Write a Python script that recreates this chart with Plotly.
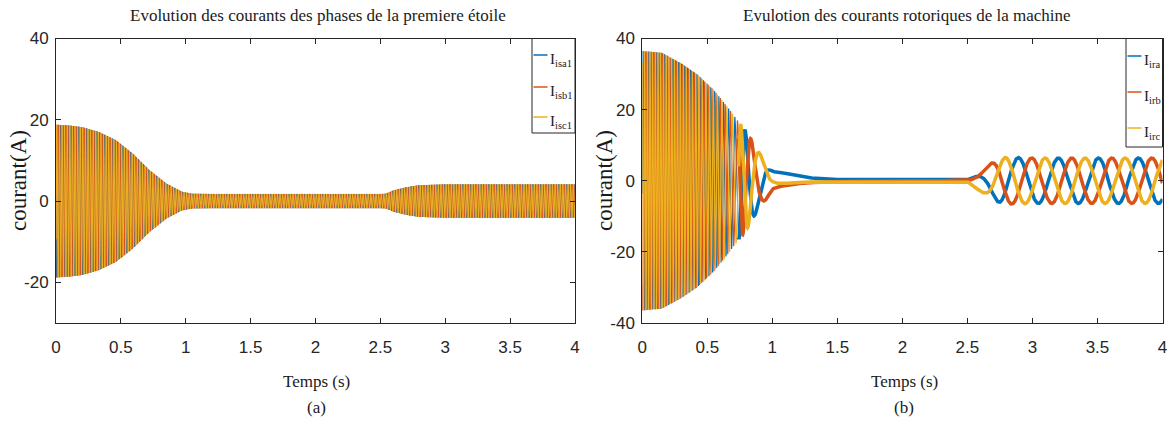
import numpy as np
import plotly.graph_objects as go

W, H = 1176, 421

# ---------------- data ----------------
T_END = 4.0
DT = 0.0004

# (a) stator currents of the first star: 50 Hz carrier, envelope
stator_env_t = [0.0, 0.1, 0.2, 0.33, 0.46, 0.59, 0.72, 0.85, 0.97, 1.05, 1.2, 2.5, 2.54, 2.6, 2.7, 2.8, 2.9, 3.0, 4.0]
stator_env_a = [18.8, 18.6, 18.2, 17.0, 15.0, 11.7, 7.6, 4.3, 2.3, 1.8, 1.75, 1.75, 1.8, 2.6, 3.4, 3.9, 4.0, 4.1, 4.1]
stator_freq_hz = 50.0

# (b) rotor currents: envelope and slip frequency
rotor_env_t = [0.0, 0.15, 0.3, 0.42, 0.55, 0.65, 0.73, 0.79, 0.84, 0.86, 0.91, 0.956, 1.0, 1.06, 1.15, 1.24, 1.44, 1.6, 2.5,
               2.55, 2.6, 2.65, 2.7, 2.75, 2.8, 2.9, 3.0, 4.0]
rotor_env_a = [36.5, 36.0, 33.0, 30.0, 25.5, 21.0, 17.0, 14.3, 11.5, 10.0, 7.3, 5.0, 2.8, 2.4, 1.7, 1.0, 0.4, 0.3, 0.3,
               1.6, 3.0, 4.2, 5.3, 6.2, 6.6, 6.5, 6.4, 6.4]
rotor_freq_t = [0.0, 0.2, 0.4, 0.5, 0.6, 0.7, 0.75, 0.8, 0.85, 0.9, 0.95, 1.0, 1.05, 1.1, 2.5,
                2.55, 2.6, 2.65, 2.7, 2.75, 2.8, 2.9, 4.0]
rotor_freq_hz = [50.0, 47.0, 41.0, 36.0, 29.0, 20.0, 12.0, 8.0, 5.5, 3.8, 3.0, 1.2, 0.3, 0.0, 0.3,
                 0.6, 1.2, 2.0, 2.8, 3.2, 3.3, 3.25, 3.25]
rotor_anchor_t = [0.79, 2.892]   # instants where I_ira reaches a crest
rotor_step_t = 2.5               # load step instant
rotor_dense_end_t = 0.74         # end of the dense start-up part (drawn thinner)

x_tick_vals = [0, 0.5, 1, 1.5, 2, 2.5, 3, 3.5, 4]
x_tick_text = ["0", "0.5", "1", "1.5", "2", "2.5", "3", "3.5", "4"]
y1_tick_vals = [-20, 0, 20, 40]
y1_tick_text = ["-20", "0", "20", "40"]
y2_tick_vals = [-40, -20, 0, 20, 40]
y2_tick_text = ["-40", "-20", "0", "20", "40"]

names_a = ["I<sub>isa1</sub>", "I<sub>isb1</sub>", "I<sub>isc1</sub>"]
names_b = ["I<sub>ira</sub>", "I<sub>irb</sub>", "I<sub>irc</sub>"]
colors = ["#0072BD", "#D95319", "#EDB120"]

title_a = "Evolution des courants des phases de la premiere étoile"
title_b = "Evulotion des courants rotoriques de la machine"
xlabel = "Temps (s)"
ylabel = "courant(A)"

# ---------------- signals ----------------
t = np.arange(0, T_END + DT / 2, DT)
shift = [0.0, -2 * np.pi / 3, 2 * np.pi / 3]

A_s = np.interp(t, stator_env_t, stator_env_a)
th_s = 2 * np.pi * stator_freq_hz * t + 2 * np.pi / 3
stator = [np.round(A_s * np.cos(th_s + s), 3) for s in shift]

f_r = np.interp(t, rotor_freq_t, rotor_freq_hz)
th_r = np.concatenate([[0.0], np.cumsum(0.5 * (f_r[1:] + f_r[:-1]) * DT)]) * 2 * np.pi
th_r1 = th_r - np.interp(rotor_anchor_t[0], t, th_r)
th_r2 = th_r - np.interp(rotor_anchor_t[1], t, th_r)
th_r = np.where(t < rotor_step_t, th_r1, th_r2)
A_r = np.interp(t, rotor_env_t, rotor_env_a)
rotor = [np.round(A_r * np.cos(th_r + s), 3) for s in shift]
tt = np.round(t, 4)

# ---------------- figure ----------------
fig = go.Figure()
for y, c in zip(stator, colors):
    fig.add_trace(go.Scatter(x=tt, y=y, mode="lines", line=dict(color=c, width=1),
                             xaxis="x", yaxis="y", showlegend=False, hoverinfo="skip"))
early = tt <= rotor_dense_end_t + DT
late = tt >= rotor_dense_end_t
for y, c in zip(rotor, colors):
    fig.add_trace(go.Scatter(x=tt[early], y=y[early], mode="lines", line=dict(color=c, width=1.2),
                             xaxis="x2", yaxis="y2", showlegend=False, hoverinfo="skip"))
for y, c in zip(rotor, colors):
    fig.add_trace(go.Scatter(x=tt[late], y=y[late], mode="lines", line=dict(color=c, width=3.5),
                             xaxis="x2", yaxis="y2", showlegend=False, hoverinfo="skip"))

TICK_FONT = dict(family="Liberation Sans, Arial", size=17, color="#262626")
SERIF = "Liberation Serif, Times New Roman, serif"
ax = dict(showline=True, linecolor="#262626", linewidth=1, mirror="allticks", ticks="inside",
          ticklen=5, tickcolor="#262626", showgrid=False, zeroline=False, tickfont=TICK_FONT,
          automargin=False)

ydom = [1 - 323 / H, 1 - 38.5 / H]
fig.update_layout(
    width=W, height=H, margin=dict(l=0, r=0, t=0, b=0, autoexpand=False),
    paper_bgcolor="white", plot_bgcolor="white",
    xaxis=dict(domain=[56 / W, 575 / W], range=[0, 4], tickvals=x_tick_vals, ticktext=x_tick_text,
               anchor="y", ticklabelstandoff=9, **ax),
    yaxis=dict(domain=ydom, range=[-30, 40], tickvals=y1_tick_vals, ticktext=y1_tick_text, anchor="x",
               ticklabelstandoff=3, **ax),
    xaxis2=dict(domain=[642.3 / W, 1162.5 / W], range=[0, 4], tickvals=x_tick_vals, ticktext=x_tick_text,
                anchor="y2", ticklabelstandoff=9, **ax),
    yaxis2=dict(domain=ydom, range=[-40, 40], tickvals=y2_tick_vals, ticktext=y2_tick_text, anchor="x2",
                ticklabelstandoff=3, **ax),
)


def px(x):
    return x / W


def py(y):
    return 1 - y / H


ann = []
shapes = []


def text(x, y, s, size, angle=0, xanchor="center"):
    ann.append(dict(x=px(x), y=py(y), xref="paper", yref="paper", text=s, showarrow=False,
                    xanchor=xanchor, yanchor="middle", textangle=angle,
                    font=dict(family=SERIF, size=size, color="#1a1a1a")))


text(318, 15, title_a, 17)
text(907, 15, title_b, 17)
text(316, 381, xlabel, 17)
text(904, 381, xlabel, 17)
text(316, 407, "(a)", 17)
text(904, 407, "(b)", 17)
text(18, 181, ylabel, 23, angle=-90)
text(604, 181, ylabel, 23, angle=-90)

# legends (box + line samples + labels)
legends = [
    dict(x0=532, x1=575, y0=38.5, y1=133, rows=[55, 87, 117], names=names_a),
    dict(x0=1126, x1=1162.5, y0=38.5, y1=147, rows=[56, 92, 128], names=names_b),
]
for lg in legends:
    shapes.append(dict(type="rect", xref="paper", yref="paper", x0=px(lg["x0"]), x1=px(lg["x1"]),
                       y0=py(lg["y1"]), y1=py(lg["y0"]), line=dict(color="#262626", width=1),
                       fillcolor="white", layer="above"))
    for yy, nm, c in zip(lg["rows"], lg["names"], colors):
        shapes.append(dict(type="line", xref="paper", yref="paper", x0=px(lg["x0"] + 1.5),
                           x1=px(lg["x0"] + 15.5), y0=py(yy), y1=py(yy), line=dict(color=c, width=1.5),
                           layer="above"))
        ann.append(dict(x=px(lg["x0"] + 15.5), y=py(yy + 5), xref="paper", yref="paper", text=nm,
                        showarrow=False, xanchor="left", yanchor="middle",
                        font=dict(family=SERIF, size=15, color="#1a1a1a")))

fig.update_layout(annotations=ann, shapes=shapes)
fig.write_html("out.html")
